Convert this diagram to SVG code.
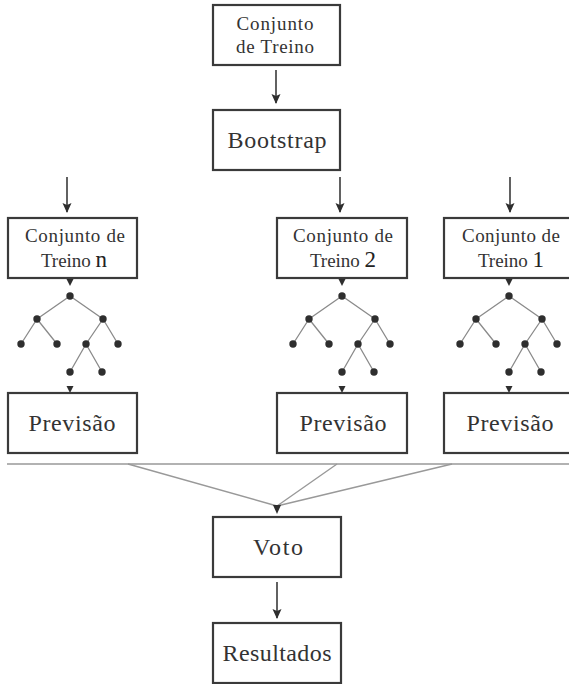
<svg xmlns="http://www.w3.org/2000/svg" width="569" height="684" viewBox="0 0 569 684">
<defs>
<style>
.box{fill:#fff;stroke:#3a3a3a;stroke-width:2.2}
.t{font-family:'Liberation Serif','DejaVu Serif',serif;fill:#333;text-anchor:middle}
.s{font-size:19px}
.b{font-size:24px}
.num{font-size:23px;fill:#222}
.arr{stroke:#3a3a3a;stroke-width:1.6;fill:none;marker-end:url(#ah)}
.edge{stroke:#8a8a8a;stroke-width:1.3;fill:none}
.dot{fill:#2e2e2e}
.tri{fill:#2e2e2e}
.gl{stroke:#999;stroke-width:1.4;fill:none}
</style>
<marker id="ah" viewBox="0 0 10 10" refX="9" refY="5" markerWidth="10" markerHeight="10" markerUnits="userSpaceOnUse" orient="auto">
<path d="M0,0.5 L10,5 L0,9.5 L2,5 z" fill="#2e2e2e"/>
</marker>
<g id="tree">
<path class="edge" d="M0,0 L-33,23 M0,0 L33,23 M-33,23 L-49,48 M-33,23 L-13,48 M33,23 L16,48 M33,23 L48,48 M16,48 L0,76 M16,48 L32,76"/>
<circle class="dot" cx="0" cy="0" r="3.7"/>
<circle class="dot" cx="-33" cy="23" r="3.7"/>
<circle class="dot" cx="33" cy="23" r="3.7"/>
<circle class="dot" cx="-49" cy="48" r="3.7"/>
<circle class="dot" cx="-13" cy="48" r="3.7"/>
<circle class="dot" cx="16" cy="48" r="3.7"/>
<circle class="dot" cx="48" cy="48" r="3.7"/>
<circle class="dot" cx="0" cy="76" r="3.7"/>
<circle class="dot" cx="32" cy="76" r="3.7"/>
</g>
</defs>

<g id="connectors">
<line class="arr" x1="276" y1="70" x2="276" y2="103"/>
<line class="arr" x1="67" y1="177" x2="67" y2="212"/>
<line class="arr" x1="340" y1="177" x2="340" y2="212"/>
<line class="arr" x1="510" y1="177" x2="510" y2="212"/>
<polygon class="tri" points="66.5,279 73.5,279 70,286"/>
<polygon class="tri" points="338.5,279 345.5,279 342,286"/>
<polygon class="tri" points="505.5,279 512.5,279 509,286"/>
<polygon class="tri" points="66.5,386 73.5,386 70,393"/>
<polygon class="tri" points="338.5,386 345.5,386 342,393"/>
<polygon class="tri" points="505.5,386 512.5,386 509,393"/>
<line class="gl" x1="7" y1="464" x2="569" y2="464"/>
<path class="gl" d="M128,464 L277,506 M337,464 L277,506 M452,464 L277,506"/>
<polygon class="tri" points="273,505 281,505 277,514"/>
<line class="arr" x1="277" y1="582" x2="277" y2="618"/>
</g>

<g id="trees">
<use href="#tree" x="70" y="296"/>
<use href="#tree" x="342" y="296"/>
<use href="#tree" x="509" y="296"/>
</g>

<g id="conjunto-treino">
<rect class="box" x="213" y="5" width="127" height="60"/>
<text class="t s" x="275" y="30" textLength="77" lengthAdjust="spacing">Conjunto</text>
<text class="t s" x="275" y="53" textLength="78" lengthAdjust="spacing">de Treino</text>
</g>

<g id="bootstrap">
<rect class="box" x="213" y="110" width="127" height="60"/>
<text class="t b" x="277" y="148" textLength="99" lengthAdjust="spacing">Bootstrap</text>
</g>

<g id="treino-n">
<rect class="box" x="8" y="218" width="129" height="60"/>
<text class="t s" x="75" y="242" textLength="100" lengthAdjust="spacing">Conjunto de</text>
<text class="t s" x="74" y="267">Treino <tspan class="num">n</tspan></text>
</g>

<g id="treino-2">
<rect class="box" x="277" y="218" width="130" height="60"/>
<text class="t s" x="343" y="242" textLength="100" lengthAdjust="spacing">Conjunto de</text>
<text class="t s" x="343" y="267">Treino <tspan class="num">2</tspan></text>
</g>

<g id="treino-1">
<rect class="box" x="444" y="218" width="135" height="60"/>
<text class="t s" x="511" y="242" textLength="98" lengthAdjust="spacing">Conjunto de</text>
<text class="t s" x="511" y="267">Treino <tspan class="num">1</tspan></text>
</g>

<g id="previsao-n">
<rect class="box" x="8" y="393" width="129" height="60"/>
<text class="t b" x="72" y="431" textLength="87" lengthAdjust="spacing">Previsão</text>
</g>

<g id="previsao-2">
<rect class="box" x="277" y="393" width="130" height="60"/>
<text class="t b" x="343" y="431" textLength="87" lengthAdjust="spacing">Previsão</text>
</g>

<g id="previsao-1">
<rect class="box" x="444" y="393" width="135" height="60"/>
<text class="t b" x="510" y="431" textLength="87" lengthAdjust="spacing">Previsão</text>
</g>

<g id="voto">
<rect class="box" x="213" y="517" width="128" height="60"/>
<text class="t b" x="278" y="555" textLength="50" lengthAdjust="spacing">Voto</text>
</g>

<g id="resultados">
<rect class="box" x="213" y="623" width="128" height="60"/>
<text class="t b" x="277" y="661" textLength="109" lengthAdjust="spacing">Resultados</text>
</g>
</svg>
